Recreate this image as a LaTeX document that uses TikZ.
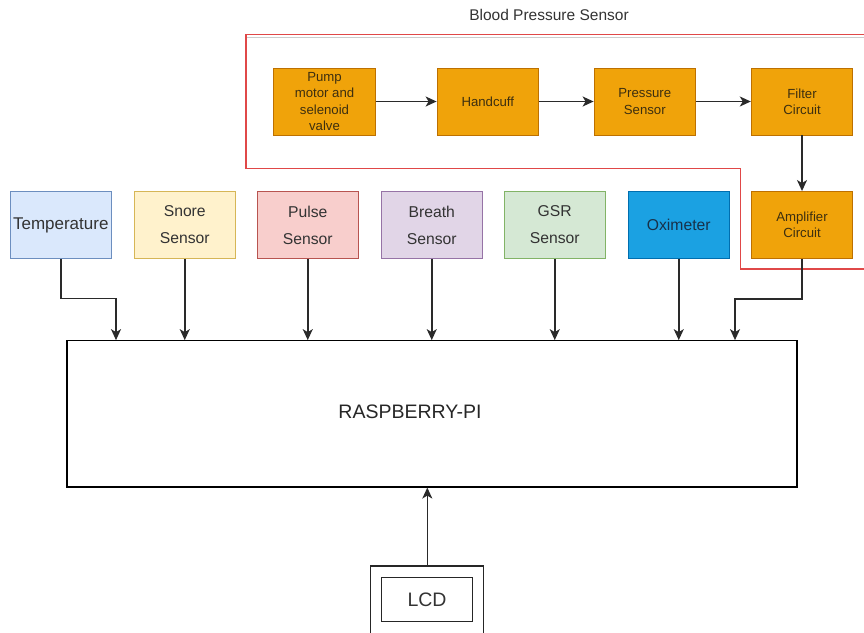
\documentclass[tikz,border=0pt]{standalone}
\usepackage{fontspec}
\setmainfont{Liberation Sans}
\usetikzlibrary{arrows.meta}
\definecolor{txt}{HTML}{333333}
\definecolor{orfill}{HTML}{F0A30A}
\definecolor{ordraw}{HTML}{BD7000}
\definecolor{ortxt}{HTML}{3D2F10}
\definecolor{redline}{HTML}{E04848}
\definecolor{conn}{HTML}{2A2A2A}
\definecolor{tempdraw}{HTML}{6C8EBF}\definecolor{tempfill}{HTML}{DAE8FC}
\definecolor{snoredraw}{HTML}{D6B656}\definecolor{snorefill}{HTML}{FFF2CC}
\definecolor{pulsedraw}{HTML}{B85450}\definecolor{pulsefill}{HTML}{F8CECC}
\definecolor{breathdraw}{HTML}{9673A6}\definecolor{breathfill}{HTML}{E1D5E7}
\definecolor{gsrdraw}{HTML}{82B366}\definecolor{gsrfill}{HTML}{D5E8D4}
\definecolor{oxidraw}{HTML}{006EAF}\definecolor{oxifill}{HTML}{1BA1E2}\definecolor{oxitxt}{HTML}{183048}
\tikzset{
  sensorbox/.style={draw, line width=0.9pt, minimum width=101.5pt, minimum height=67pt, inner sep=0pt,
    align=center, text=txt, font=\fontsize{15.7}{27}\selectfont},
  orbox/.style={draw=ordraw, fill=orfill, line width=0.9pt, minimum width=101.5pt, minimum height=67pt, inner sep=0pt,
    align=center, text=ortxt, font=\fontsize{13.2}{16.3}\selectfont},
  conarrow/.style={draw=conn, line width=1.5pt, -{Stealth[length=11pt,width=10pt,inset=3pt]}},
  plainbox/.style={draw=black, line width=1.1pt, inner sep=0pt},
}
\begin{document}
\begin{tikzpicture}[x=1pt,y=-1pt]
\useasboundingbox (0,0) rectangle (864,632);
% title
\node[text=txt, font=\fontsize{15.5}{18}\selectfont] (bpstitle) at (549,15) {Blood Pressure Sensor};
% red outline and gray line
\draw[black!20, line width=0.8pt] (247,37.8) -- (870,37.8);
\draw[redline, line width=1.1pt] (870,34.5) -- (246,34.5) -- (246,168.3) -- (740.5,168.3) -- (740.5,269) -- (870,269);
% orange chain
\node[orbox] (pump) at (324.5,101.5) {Pump\\motor and\\selenoid\\valve};
\node[orbox] (hand) at (487.8,101.5) {Handcuff};
\node[orbox] (press) at (644.8,101.5) {Pressure\\Sensor};
\node[orbox] (filter) at (802,101.5) {Filter\\Circuit};
\node[orbox] (amp) at (802,225) {Amplifier\\Circuit};
\draw[conarrow] (pump) -- (hand);
\draw[conarrow] (hand) -- (press);
\draw[conarrow] (press) -- (filter);
\draw[conarrow] (filter) -- (amp);
% sensors
\node[sensorbox, draw=tempdraw, fill=tempfill, font=\fontsize{17}{20}\selectfont] (temp) at (60.75,225) {Temperature};
\node[sensorbox, draw=snoredraw, fill=snorefill] (snore) at (184.75,225) {Snore\\Sensor};
\node[sensorbox, draw=pulsedraw, fill=pulsefill] (pulse) at (307.75,225) {Pulse\\Sensor};
\node[sensorbox, draw=breathdraw, fill=breathfill] (breath) at (431.75,225) {Breath\\Sensor};
\node[sensorbox, draw=gsrdraw, fill=gsrfill] (gsr) at (554.75,225) {GSR\\Sensor};
\node[sensorbox, draw=oxidraw, fill=oxifill, text=oxitxt] (oxi) at (678.75,225) {Oximeter};
% raspberry pi
\node[plainbox, minimum width=730pt, minimum height=146.3pt] (rpi) at (432,413.85) {};
\node[text=black!85, font=\fontsize{19.5}{22}\selectfont] (rpilabel) at (410,412) {RASPBERRY-PI};
% sensor connectors
\draw[conarrow] (temp.south) -- (temp.south |- 0,298.3) -| (rpi.north -| 116,0);
\draw[conarrow] (snore.south) -- (snore.south |- rpi.north);
\draw[conarrow] (pulse.south) -- (pulse.south |- rpi.north);
\draw[conarrow] (breath.south) -- (breath.south |- rpi.north);
\draw[conarrow] (gsr.south) -- (gsr.south |- rpi.north);
\draw[conarrow] (oxi.south) -- (oxi.south |- rpi.north);
\draw[conarrow] (amp.south) -- (amp.south |- 0,299) -| (rpi.north -| 735,0);
% LCD
\draw[black!85, line width=1.1pt] (370.7,650) -- (370.7,566) -- (483.3,566) -- (483.3,650);
\coordinate (lcdtop) at (427.3,566);
\node[plainbox, draw=black!85, minimum width=90.6pt, minimum height=44.4pt, font=\fontsize{19.5}{22}\selectfont, text=txt] (lcd) at (427,599.5) {LCD};
\draw[conarrow] (lcdtop) -- (lcdtop |- rpi.south);
\end{tikzpicture}
\end{document}
